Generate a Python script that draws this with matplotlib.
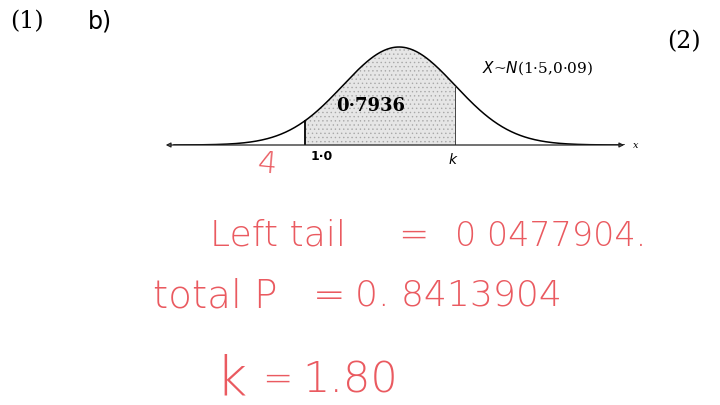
import numpy as np
import matplotlib.pyplot as plt

# distribution and shaded region
mu = 1.5
var = 0.09
lower = 1.0
upper = 1.80
shaded_p = "0·7936"
dist_label = "$X$~$N$(1·5,0·09)"
lower_label = "1·0"

# handwritten working (text pieces, x positions in pixels)
work_rows = [
    [("Left tail", 210), ("=", 398), ("0 0477904.", 455)],
    [("total P", 153), ("=", 313), ("0. 8413904", 355)],
    [("k", 215), ("=", 262), ("1.80", 302)],
]
work_y = [236, 296, 380]
work_size = [[26, 26, 24], [28, 28, 26], [39, 26, 31]]

red = "#ea5a60"

fig = plt.figure(figsize=(7.2, 4.05), dpi=100)

# overlay in pixel coords for the loose text
ov = fig.add_axes([0, 0, 1, 1])
ov.set_xlim(0, 720)
ov.set_ylim(405, 0)
ov.axis("off")

ov.text(10, 22, "(1)", fontsize=17, family="DejaVu Serif", va="center")
ov.text(88, 22, "b)", fontsize=17, family="DejaVu Sans", va="center")
ov.text(667, 42, "(2)", fontsize=17, family="DejaVu Serif", va="center")

for row, y, sizes in zip(work_rows, work_y, work_size):
    for (txt, x), fs in zip(row, sizes):
        ov.text(x, y, txt, color=red, fontsize=fs, family="DejaVu Sans",
                fontweight="light", va="center", ha="left")

ov.text(256, 164, "4", color=red, fontsize=22, family="DejaVu Sans",
        fontweight="light", va="center", ha="left", rotation=-5)

# normal curve axes: axis line at y=145px, x pixel = 399 + (x-mu)*187.5
x0, x1 = 0.241, 2.716
left_px = 399 + (x0 - mu) * 187.5
right_px = 399 + (x1 - mu) * 187.5
ax = fig.add_axes([left_px / 720, (405 - 145) / 405,
                   (right_px - left_px) / 720, 105 / 405])
ax.axis("off")
sd = np.sqrt(var)
peak = 1 / (sd * np.sqrt(2 * np.pi))
ax.set_xlim(x0, x1)
ax.set_ylim(0, peak * 105 / 98)

xs = np.linspace(0.3, 2.7, 400)
ys = np.exp(-0.5 * ((xs - mu) / sd) ** 2) / (sd * np.sqrt(2 * np.pi))
ax.plot(xs, ys, color="black", lw=1.1)

plt.rcParams["hatch.linewidth"] = 0.5
mask = (xs >= lower) & (xs <= upper)
ax.fill_between(xs[mask], 0, ys[mask], facecolor="#e6e6e6",
                edgecolor="#a8a8a8", hatch="....", linewidth=0)

pdf = lambda v: np.exp(-0.5 * ((v - mu) / sd) ** 2) / (sd * np.sqrt(2 * np.pi))
ax.plot([lower, lower], [0, pdf(lower)], color="black", lw=1.3)
ax.plot([upper, upper], [0, pdf(upper)], color="#444444", lw=0.7)

ax.annotate("", xy=(x0, 0), xytext=(x1, 0),
            arrowprops=dict(arrowstyle="<|-|>", lw=0.9, color="#222222",
                            mutation_scale=7, fill=False),
            annotation_clip=False)
ax.text(x1 + 0.03, 0, "x", fontsize=7, style="italic", family="DejaVu Serif",
        va="center", clip_on=False)

ax.text((lower + upper) / 2 - 0.05, peak * 0.4, shaded_p, fontsize=13,
        fontweight="bold", family="DejaVu Serif", ha="center", va="center")
ax.text(lower + 0.09, -peak * 0.12, lower_label, fontsize=9,
        fontweight="bold", family="DejaVu Sans", ha="center", va="center",
        clip_on=False)
ax.text(upper - 0.01, -peak * 0.15, "$k$", fontsize=10, ha="center",
        va="center", clip_on=False)
ax.text(1.94, peak * 0.78, dist_label, fontsize=11, family="DejaVu Serif",
        ha="left", va="center", clip_on=False)

fig.savefig("out.png", dpi=100)
